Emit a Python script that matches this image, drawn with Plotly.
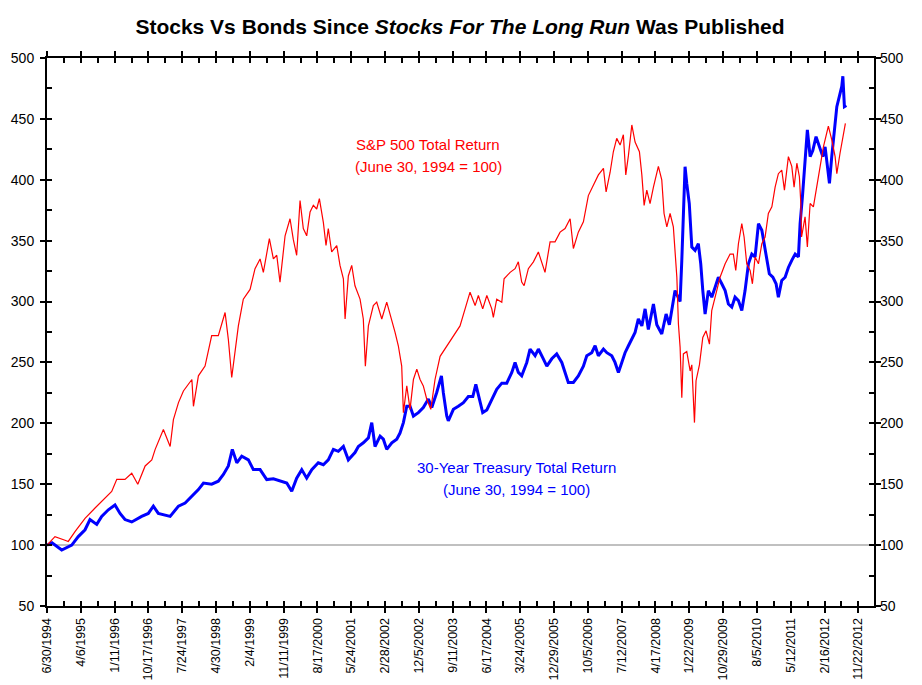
import plotly.graph_objects as go

# ---------------- data ----------------
sp_dates = [
    "1994-06-30", "1994-09-04", "1994-11-26", "1994-12-23", "1995-02-17", "1995-05-11",
    "1995-08-02", "1995-09-26", "1995-12-18", "1996-01-29", "1996-04-06", "1996-06-01",
    "1996-07-21", "1996-09-20", "1996-11-14", "1996-12-12", "1997-02-18", "1997-04-15",
    "1997-05-12", "1997-06-23", "1997-08-03", "1997-10-12", "1997-10-25", "1997-12-05",
    "1998-01-29", "1998-03-25", "1998-05-19", "1998-07-14", "1998-08-10", "1998-09-07",
    "1998-10-04", "1998-11-01", "1998-12-12", "1999-02-06", "1999-03-19", "1999-04-30",
    "1999-05-27", "1999-07-16", "1999-08-18", "1999-09-15", "1999-10-12", "1999-11-23",
    "2000-01-03", "2000-01-30", "2000-02-27", "2000-03-26", "2000-04-22", "2000-05-20",
    "2000-06-17", "2000-07-14", "2000-08-11", "2000-09-02", "2000-10-05", "2000-10-27",
    "2000-11-15", "2000-12-13", "2001-01-24", "2001-02-20", "2001-03-20", "2001-04-03",
    "2001-04-30", "2001-05-28", "2001-06-24", "2001-08-05", "2001-09-01", "2001-09-18",
    "2001-10-13", "2001-11-23", "2001-12-21", "2002-02-01", "2002-03-14", "2002-04-25",
    "2002-05-22", "2002-06-18", "2002-07-16", "2002-07-30", "2002-08-27", "2002-09-23",
    "2002-10-21", "2002-11-18", "2002-12-15", "2003-01-11", "2003-02-08", "2003-03-14",
    "2003-04-18", "2003-05-30", "2003-07-24", "2003-09-17", "2003-11-11", "2003-12-23",
    "2004-02-02", "2004-03-15", "2004-04-11", "2004-05-17", "2004-06-20", "2004-07-31",
    "2004-08-13", "2004-09-10", "2004-10-22", "2004-11-10", "2004-12-30", "2005-02-09",
    "2005-03-08", "2005-04-05", "2005-04-25", "2005-05-30", "2005-07-11", "2005-08-21",
    "2005-09-18", "2005-10-15", "2005-11-26", "2006-01-06", "2006-02-17", "2006-03-30",
    "2006-05-11", "2006-06-07", "2006-07-18", "2006-08-29", "2006-10-09", "2006-11-20",
    "2006-12-31", "2007-02-11", "2007-03-05", "2007-04-07", "2007-05-04", "2007-06-01",
    "2007-06-29", "2007-07-26", "2007-08-15", "2007-09-06", "2007-10-04", "2007-10-31",
    "2007-12-06", "2007-12-26", "2008-01-14", "2008-02-05", "2008-03-03", "2008-03-31",
    "2008-05-11", "2008-06-08", "2008-06-27", "2008-07-20", "2008-08-16", "2008-09-12",
    "2008-09-26", "2008-10-11", "2008-10-24", "2008-11-07", "2008-11-21", "2008-12-04",
    "2009-01-01", "2009-01-29", "2009-02-12", "2009-03-06", "2009-03-19", "2009-04-16",
    "2009-05-14", "2009-06-10", "2009-07-08", "2009-07-27", "2009-08-24", "2009-10-04",
    "2009-11-15", "2009-12-26", "2010-01-22", "2010-02-11", "2010-03-05", "2010-04-02",
    "2010-04-21", "2010-05-13", "2010-06-10", "2010-06-29", "2010-07-21", "2010-08-18",
    "2010-09-15", "2010-10-12", "2010-11-08", "2010-12-07", "2011-01-03", "2011-01-30",
    "2011-02-27", "2011-03-21", "2011-04-23", "2011-05-21", "2011-06-09", "2011-07-02",
    "2011-07-23", "2011-08-04", "2011-08-10", "2011-09-08", "2011-09-27", "2011-10-20",
    "2011-11-16", "2011-12-14", "2012-01-10", "2012-02-07", "2012-03-19", "2012-04-16",
    "2012-05-14", "2012-05-28", "2012-06-24", "2012-07-17", "2012-08-07",
]
sp_values = [
    100, 107, 104, 103, 111, 122,
    130.5, 136, 144, 154, 154, 159,
    150, 165, 170, 178.6, 195, 181,
    203, 217, 226.6, 236, 214, 239,
    247, 272, 272, 291, 269, 237.6,
    258, 280, 302, 310, 327, 335,
    324, 351.6, 335, 338, 316, 354,
    368, 351, 338, 383, 360, 354,
    373.6, 379, 376, 384.6, 365, 346,
    360, 340.7, 346, 329.7, 318.7, 285.7,
    321, 329.7, 313, 302, 285.7, 247,
    280, 296.7, 299.5, 285.7, 299.5, 285.7,
    274.7, 263.7, 247, 208.8, 230.7, 211.5,
    236, 244.5, 236, 230.7, 220, 211.5,
    236, 255, 263.7, 272, 280, 294,
    307.7, 296.7, 305, 294, 305, 294,
    287, 302, 299.5, 318.7, 324, 327,
    332.6, 316, 313, 327, 332.6, 340.7,
    332.6, 324, 349, 349, 357, 360,
    368, 343.6, 357, 365.5, 387, 395.6,
    404, 409.4, 390, 406, 423, 434,
    428.5, 437, 404, 420, 445, 431,
    423, 404, 379, 391.5, 380.5, 394,
    411, 400, 372.3, 361.3, 372.3, 361.3,
    339, 320, 281.6, 262.4, 221, 257,
    259, 243, 248, 200.6, 235, 248,
    270.6, 276, 265, 292.6, 303.6, 320,
    331, 339, 339, 325.5, 347.5, 364,
    353, 331, 325.5, 314.6, 336.6, 331,
    347.5, 353, 372.3, 377.8, 394, 405,
    408, 391.5, 419, 411, 394, 413.6,
    402.5, 380.5, 353, 369.5, 344.8, 380.5,
    377.8, 394, 411, 427, 444, 433,
    419, 405, 422, 435.7, 446.4,
]

tsy_dates = [
    "1994-06-30", "1994-08-10", "1994-10-30", "1995-01-21", "1995-03-16", "1995-05-11",
    "1995-06-21", "1995-07-19", "1995-08-16", "1995-09-26", "1995-11-20", "1996-01-14",
    "1996-02-25", "1996-04-06", "1996-06-01", "1996-08-22", "1996-10-16", "1996-11-27",
    "1997-01-07", "1997-04-15", "1997-06-23", "1997-08-17", "1997-10-12", "1997-12-05",
    "1998-01-16", "1998-03-25", "1998-05-19", "1998-06-30", "1998-08-10", "1998-09-12",
    "1998-10-19", "1998-11-29", "1999-01-23", "1999-03-05", "1999-04-30", "1999-06-24",
    "1999-08-18", "1999-10-12", "1999-12-07", "2000-01-17", "2000-02-27", "2000-04-09",
    "2000-05-20", "2000-07-01", "2000-08-24", "2000-10-05", "2000-11-15", "2000-12-27",
    "2001-02-06", "2001-03-20", "2001-04-30", "2001-06-24", "2001-07-22", "2001-09-01",
    "2001-10-13", "2001-11-10", "2001-12-07", "2002-01-18", "2002-02-14", "2002-03-14",
    "2002-04-25", "2002-06-05", "2002-07-02", "2002-07-30", "2002-08-27", "2002-09-23",
    "2002-10-21", "2002-12-01", "2003-01-11", "2003-02-22", "2003-03-22", "2003-05-02",
    "2003-06-10", "2003-06-26", "2003-07-24", "2003-08-06", "2003-09-17", "2003-10-28",
    "2003-12-09", "2004-01-19", "2004-02-25", "2004-03-21", "2004-04-19", "2004-05-17",
    "2004-06-20", "2004-07-31", "2004-09-10", "2004-10-22", "2004-12-02", "2005-01-13",
    "2005-02-09", "2005-03-08", "2005-04-05", "2005-05-17", "2005-06-13", "2005-07-25",
    "2005-08-21", "2005-10-01", "2005-10-30", "2005-12-10", "2006-01-20", "2006-03-03",
    "2006-03-30", "2006-04-26", "2006-06-07", "2006-07-18", "2006-08-29", "2006-09-26",
    "2006-11-06", "2006-12-04", "2006-12-31", "2007-02-11", "2007-03-11", "2007-04-21",
    "2007-05-18", "2007-06-15", "2007-07-13", "2007-08-09", "2007-09-06", "2007-10-04",
    "2007-10-31", "2007-11-27", "2007-12-26", "2008-01-22", "2008-02-18", "2008-03-31",
    "2008-04-28", "2008-06-08", "2008-07-14", "2008-08-10", "2008-08-30", "2008-09-26",
    "2008-10-24", "2008-11-07", "2008-11-21", "2008-12-04", "2008-12-18", "2009-01-01",
    "2009-01-22", "2009-02-12", "2009-03-11", "2009-04-07", "2009-04-27", "2009-05-14",
    "2009-06-02", "2009-06-29", "2009-07-27", "2009-08-24", "2009-09-20", "2009-10-18",
    "2009-11-15", "2009-12-12", "2010-01-09", "2010-02-05", "2010-03-05", "2010-04-02",
    "2010-04-29", "2010-05-27", "2010-06-24", "2010-07-21", "2010-08-18", "2010-09-15",
    "2010-10-04", "2010-10-26", "2010-11-16", "2010-12-15", "2011-01-11", "2011-01-30",
    "2011-02-27", "2011-03-27", "2011-04-23", "2011-05-21", "2011-06-18", "2011-07-15",
    "2011-07-29", "2011-08-17", "2011-09-08", "2011-09-27", "2011-10-20", "2011-11-11",
    "2011-12-08", "2012-01-05", "2012-02-02", "2012-02-21", "2012-03-14", "2012-03-28",
    "2012-04-16", "2012-05-08", "2012-05-28", "2012-06-18", "2012-07-08", "2012-07-17",
    "2012-07-30", "2012-08-15",
]
tsy_values = [
    100, 102, 96, 100, 107, 112.6,
    121, 119, 117, 123.6, 129, 133,
    126, 121, 119, 123.6, 126, 132,
    126, 123.6, 132, 134.6, 140, 145.6,
    151, 150, 152.5, 158, 165, 178.6,
    167.6, 173, 170, 162, 162, 153.8,
    154.5, 152.5, 151, 144.2, 155, 162,
    155, 162, 167.6, 166, 170, 178.6,
    177, 181, 170, 176, 181, 184,
    188, 200.6, 181, 189.5, 187, 178.6,
    184, 187, 192, 200.6, 214, 214,
    206, 208.8, 213, 220, 213, 225.3,
    239, 225, 206, 202, 211.5, 214,
    217, 222, 222, 232, 220, 208.8,
    211, 220, 228, 233, 233, 241.8,
    250, 241.8, 239, 250, 261, 255.5,
    261, 253, 247, 253, 257, 250,
    241.8, 233.6, 233.6, 239, 247, 255.5,
    258, 263.7, 255.5, 261, 258, 255.5,
    250, 241.8, 250, 258, 263.7, 269,
    274.7, 285.7, 280, 294, 277, 298,
    281, 273.4, 289.8, 281, 292.6, 309,
    303, 300, 333.8, 372.3, 410.7, 397,
    380.5, 344.8, 342, 347.5, 331, 309,
    289.8, 309, 303.6, 311.7, 320, 314.6,
    309, 298, 295.4, 303.6, 300.8, 292.6,
    309, 331, 339, 336.6, 364, 358.5,
    347.5, 336.6, 322.8, 320, 314.6, 303.6,
    317.3, 320, 328, 333.8, 339, 336.6,
    364, 386, 413.5, 441, 419, 424,
    435.4, 427, 419, 427, 405, 397,
    419, 438, 460, 468.4, 476.7, 485,
    460, 461,
]

title_text = "<b>Stocks Vs Bonds Since <i>Stocks For The Long Run</i> Was Published</b>"
sp_label = ["S&P 500 Total Return", "(June 30, 1994 = 100)"]
tsy_label = ["30-Year Treasury Total Return", "(June 30, 1994 = 100)"]
baseline_value = 100
y_range = [50, 500]
x_range = ["1994-06-30", "2013-04-01"]
x_tick0 = "1994-06-30"
x_tick_days = 280

FONT = "Liberation Sans, Arial, sans-serif"
DAY_MS = 86400000

# The page body has an 8px default margin, so the figure is laid out 8px in
OFF = 8
W, H = 922 - OFF, 685 - OFF
L, T = 47 - OFF, 58 - OFF
PLOT_RIGHT, PLOT_BOTTOM = 874 - OFF, 606 - OFF
R, B = W - PLOT_RIGHT, H - PLOT_BOTTOM
PW, PH = W - L - R, H - T - B


def px_to_paper(px, py):
    return (px - OFF - L) / PW, (H - B - (py - OFF)) / PH


fig = go.Figure()

fig.add_trace(go.Scatter(
    x=tsy_dates, y=tsy_values, mode="lines",
    line=dict(color="#0000FF", width=3), xaxis="x", yaxis="y",
    showlegend=False, hoverinfo="x+y",
))
fig.add_trace(go.Scatter(
    x=sp_dates, y=sp_values, mode="lines",
    line=dict(color="#FF0000", width=1.2), xaxis="x2", yaxis="y2",
    showlegend=False, hoverinfo="x+y",
))

common_x = dict(
    type="date", range=x_range, tick0=x_tick0, dtick=x_tick_days * DAY_MS,
    showgrid=False, zeroline=False, automargin=False,
)
common_y = dict(range=y_range, dtick=50, tick0=0, showgrid=False, zeroline=False,
                automargin=False)

fig.update_layout(
    width=W, height=H,
    margin=dict(l=L, r=R, t=T, b=B, autoexpand=False),
    paper_bgcolor="white", plot_bgcolor="white",
    font=dict(family=FONT, color="black"),
    title=dict(text=title_text, x=(460 - OFF) / W, xanchor="center", xref="container",
               yref="container", y=1 - (27 - OFF) / H, yanchor="middle", automargin=False,
               font=dict(family=FONT, size=21, color="black")),
    xaxis=dict(
        **common_x,
        tickformat="%-m/%-d/%Y", tickangle=-90,
        ticks="outside", ticklen=5, tickwidth=2, tickcolor="black",
        showline=True, linewidth=2, linecolor="black", mirror="allticks",
        tickfont=dict(family=FONT, size=12.5, color="black"),
    ),
    xaxis2=dict(
        **common_x,
        overlaying="x", anchor="y2", side="bottom",
        showticklabels=False,
        ticks="inside", ticklen=5, tickwidth=2, tickcolor="black",
        showline=False, mirror="allticks",
        minor=dict(ticks="inside", ticklen=5, tickwidth=2, tickcolor="black",
                   dtick=x_tick_days // 2 * DAY_MS, tick0=x_tick0),
    ),
    yaxis=dict(
        **common_y,
        ticks="outside", ticklen=5, tickwidth=2, tickcolor="black",
        showline=True, linewidth=2, linecolor="black", mirror="allticks",
        tickfont=dict(family=FONT, size=14, color="black"),
        ticklabelstandoff=3,
    ),
    yaxis2=dict(
        **common_y,
        overlaying="y", anchor="x2", side="right",
        ticks="inside", ticklen=5, tickwidth=2, tickcolor="black",
        showline=False, mirror="allticks",
        tickfont=dict(family=FONT, size=14, color="black"),
        ticklabelstandoff=5,
        minor=dict(ticks="inside", ticklen=5, tickwidth=2, tickcolor="black",
                   dtick=25, tick0=0),
    ),
    shapes=[dict(type="line", xref="paper", x0=0, x1=1, yref="y",
                 y0=baseline_value, y1=baseline_value,
                 line=dict(color="#C0C0C0", width=2), layer="below")],
)

ann_font_red = dict(family=FONT, size=15, color="#FF0000")
ann_font_blue = dict(family=FONT, size=15, color="#0000FF")
label_specs = [
    (sp_label[0], 428, 145, ann_font_red),
    (sp_label[1], 428, 166.5, ann_font_red),
    (tsy_label[0], 516.5, 468, ann_font_blue),
    (tsy_label[1], 516.5, 489, ann_font_blue),
]
for text, px, py, f in label_specs:
    ax, ay = px_to_paper(px, py)
    fig.add_annotation(xref="paper", yref="paper", showarrow=False, text=text,
                       x=ax, y=ay, xanchor="center", yanchor="middle", font=f)

fig.write_html("out.html")
